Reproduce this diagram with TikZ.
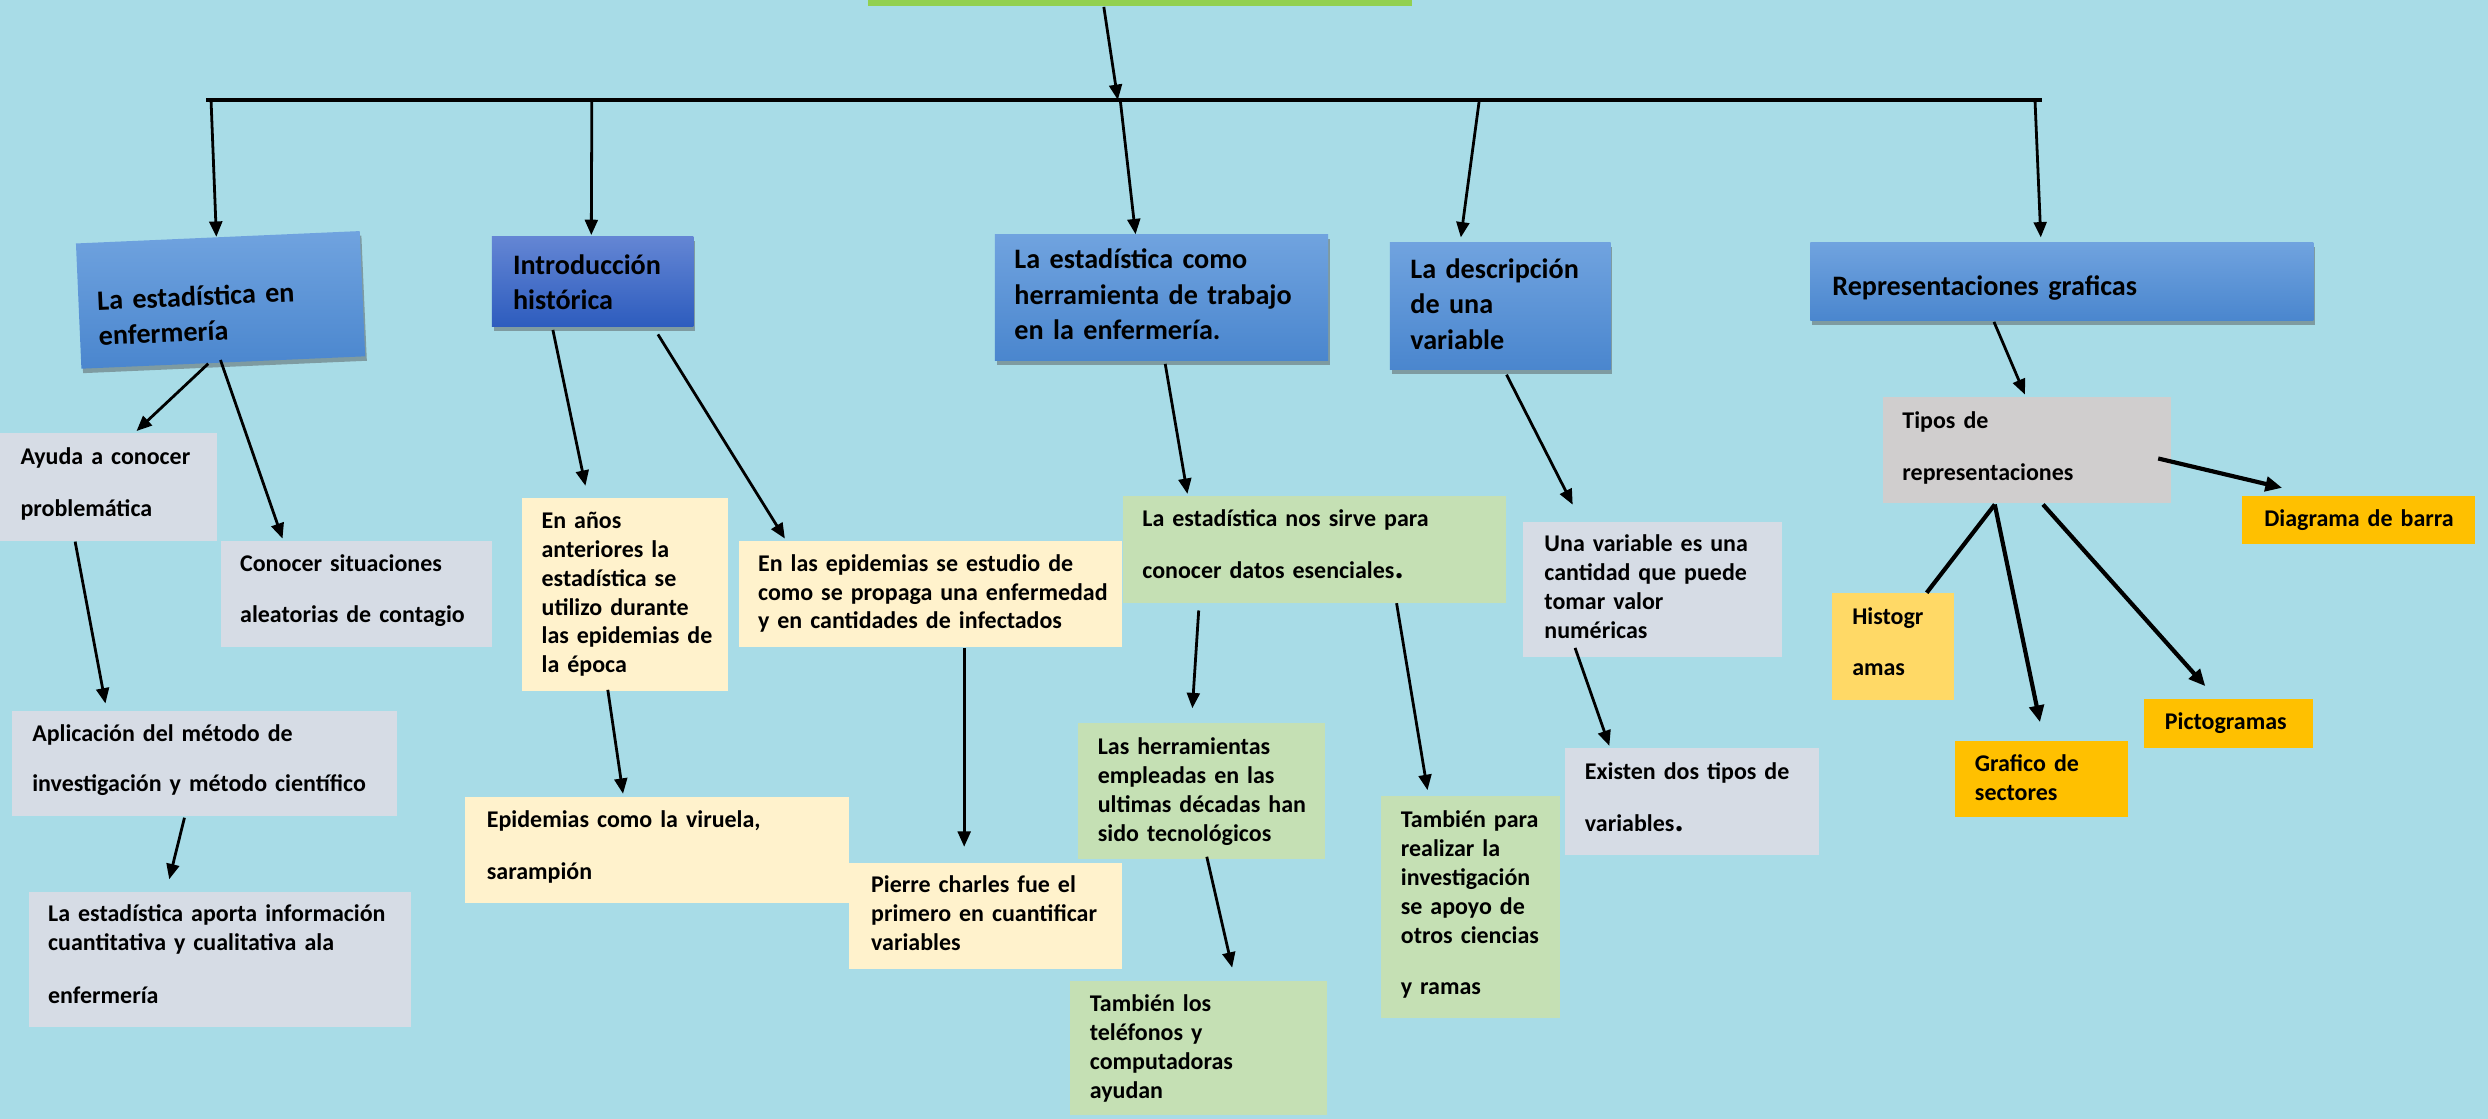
\documentclass[tikz,border=0pt]{standalone}
\usepackage{fontspec}
\setmainfont{Carlito}
\usetikzlibrary{arrows.meta,calc,fit,shadows}
\newlength\upx
\setlength\upx{0.02cm}
\definecolor{cbg}{HTML}{A8DCE7}
\definecolor{ctop}{HTML}{92D050}
\definecolor{bluetop}{HTML}{70A3DF}
\definecolor{bluebot}{HTML}{4A86CE}
\definecolor{dbluetop}{HTML}{6486D4}
\definecolor{dbluebot}{HTML}{2D5CBE}
\definecolor{cgray}{HTML}{D6DCE5}
\definecolor{ccream}{HTML}{FFF2CC}
\definecolor{cgreen}{HTML}{C5E0B4}
\definecolor{ctipos}{HTML}{D0CECE}
\definecolor{chist}{HTML}{FFD966}
\definecolor{corange}{HTML}{FFC000}
\begin{document}
\begin{tikzpicture}[x=0.02cm,y=-0.02cm,
  box/.style={inner sep=0pt, draw=none},
  shad/.style={drop shadow={shadow xshift=0.6pt, shadow yshift=-1.6pt, opacity=0.45, fill=black!70}},
  bluebox/.style={box, top color=bluetop, bottom color=bluebot, shad},
  dbluebox/.style={box, top color=dbluetop, bottom color=dbluebot, shad},
  graybox/.style={box, fill=cgray},
  creambox/.style={box, fill=ccream},
  greenbox/.style={box, fill=cgreen},
  tiposbox/.style={box, fill=ctipos},
  histbox/.style={box, fill=chist},
  orangebox/.style={box, fill=corange},
  htxt/.style={font=\fontsize{10.1}{12.7}\selectfont\bfseries, inner sep=0pt, anchor=base west, text width=330\upx, align=left},
  btxt/.style={font=\fontsize{8.6}{10.36}\selectfont\bfseries, inner sep=0pt, anchor=base west, text width=330\upx, align=left},
  arr/.style={-{Triangle[length=5.5pt,width=4.6pt]}, line width=1pt},
  tarr/.style={-{Triangle[length=6pt,width=5.2pt]}, line width=1.5pt},
  bar/.style={line width=1.4pt}
]
\useasboundingbox (0,0) rectangle (1568,705);
\fill[cbg] (0,0) rectangle (1568,705);
\clip (0,0) rectangle (1568,705);

% top box and bar
\node[box, fill=ctop, fit={(547,-8) (890,4)}] (top) {};
\coordinate (bl) at (130,63);
\coordinate (br) at (1287,63);
\coordinate (j0) at (704.5,63);
\coordinate (j1) at (133,63);
\coordinate (j2) at (373,63);
\coordinate (j3) at (706,63);
\coordinate (j4) at (932.3,63);
\coordinate (j5) at (1282.5,63);
\draw[bar] (bl) -- (br);

% main headings
\begin{scope}[shift={(139,189)}, rotate=2.5]
  \node[bluebox, minimum width=179\upx, minimum height=79\upx, rotate=2.5] (b1) at (0,0) {};
  \node[htxt, rotate=2.5] (b1t) at (-78,3.1) {La estadística en\\enfermería};
\end{scope}
\node[dbluebox, fit={(310,149) (437,206)}] (b2) {};
\node[htxt] (b2t) at (323,172.7) {Introducción\\histórica};
\node[bluebox, fit={(627,148) (837,227)}] (b3) {};
\node[htxt] (b3t) at (639,169.5) {La estadística como\\herramienta de trabajo\\en la enfermería.};
\node[bluebox, fit={(876,153) (1015,233)}] (b4) {};
\node[htxt] (b4t) at (888.5,175.5) {La descripción\\de una\\variable};
\node[bluebox, fit={(1141,153) (1458,202)}] (b5) {};
\node[htxt] (b5t) at (1154.4,186.5) {Representaciones graficas};

% column 1
\node[graybox, fit={(0,273) (137,341)}] (aya) {};
\node[btxt] (ayat) at (12.6,292.5) {Ayuda a conocer\\[8.4pt]problemática};
\node[graybox, fit={(139,341) (310,408)}] (con) {};
\node[btxt] (cont) at (151,360) {Conocer situaciones\\[7.9pt]aleatorias de contagio};
\node[graybox, fit={(7.5,448) (250,514.5)}] (apl) {};
\node[btxt] (aplt) at (20,467) {Aplicación del método de\\[7.9pt]investigación y método científico};
\node[graybox, fit={(18,562) (259,647)}] (apo) {};
\node[btxt] (apot) at (30,581) {La estadística aporta información\\cuantitativa y cualitativa ala\\[8.4pt]enfermería};

% column 2
\node[creambox, fit={(329,314) (459,435.5)}] (anos) {};
\node[btxt] (anost) at (341,333) {En años\\anteriores la\\estadística se\\utilizo durante\\las epidemias de\\la época};
\node[creambox, fit={(466,341) (707,408)}] (epi) {};
\node[btxt] (epit) at (477.4,360) {En las epidemias se estudio de\\como se propaga una enfermedad\\y en cantidades de infectados};
\node[creambox, fit={(293,502) (535,569)}] (vir) {};
\node[btxt] (virt) at (306.5,521.5) {Epidemias como la viruela,\\[8.2pt]sarampión};
\node[creambox, fit={(535,543.6) (707,610.5)}] (pie) {};
\node[btxt] (piet) at (548.7,562.5) {Pierre charles fue el\\primero en cuantificar\\variables};

% column 3
\node[greenbox, fit={(707.5,312.8) (949.3,380)}] (sir) {};
\node[btxt] (sirt) at (719.6,332) {La estadística nos sirve para\\[8.2pt]conocer datos esenciales\scalebox{1.5}{.}};
\node[greenbox, fit={(679.5,455.8) (835.2,541.2)}] (her) {};
\node[btxt] (hert) at (691.5,475.7) {Las herramientas\\empleadas en las\\ultimas décadas han\\sido tecnológicos};
\node[greenbox, fit={(674.4,618) (836.3,703)}] (tel) {};
\node[btxt] (telt) at (686.5,637.6) {También los\\teléfonos y\\computadoras\\ayudan};
\node[greenbox, fit={(870.4,501.7) (983,641.8)}] (par) {};
\node[btxt] (part) at (882.5,521.5) {También para\\realizar la\\investigación\\se apoyo de\\otros ciencias\\[8.1pt]y ramas};

% column 4
\node[graybox, fit={(960,329) (1123,414)}] (var) {};
\node[btxt] (vart) at (973,347.8) {Una variable es una\\cantidad que puede\\tomar valor\\numéricas};
\node[graybox, fit={(986,471.5) (1146.3,539)}] (exi) {};
\node[btxt] (exit) at (998.5,491.3) {Existen dos tipos de\\[8.4pt]variables\scalebox{1.5}{.}};

% column 5
\node[tiposbox, fit={(1186.5,250) (1368,317.3)}] (tip) {};
\node[btxt] (tipt) at (1198.6,270) {Tipos de\\[8.4pt]representaciones};
\node[histbox, fit={(1154.3,373.5) (1231.7,441)}] (his) {};
\node[btxt] (hist) at (1167,393.7) {Histogr\\[8pt]amas};
\node[orangebox, fit={(1232.2,467) (1341.3,515)}] (gra) {};
\node[btxt] (grat) at (1244.3,486) {Grafico de\\sectores};
\node[orangebox, fit={(1351,440.7) (1457.4,471.2)}] (pic) {};
\node[btxt] (pict) at (1364,460) {Pictogramas};
\node[orangebox, fit={(1413,312.7) (1559.5,342.6)}] (dia) {};
\node[btxt] (diat) at (1426.7,332) {Diagrama de barra};

% connectors from top
\draw[arr] ($(top.south west)+(149,0)$) -- (j0);
\draw[arr] (j1) -- ($(b1.north west)!0.495!(b1.north east)$);
\draw[arr] (j2) -- ($(b2.north west)+(63,-0.5)$);
\draw[arr] (j3) -- ($(b3.north west)+(89,0)$);
\draw[arr] (j4) -- ($(b4.north west)+(45,-3)$);
\draw[arr] (j5) -- ($(b5.north west)+(145.5,-3)$);

% column 1 connectors
\draw[arr] ($(b1.south west)!0.447!(b1.south east)$) -- ($(aya.north west)+(86.4,-1)$);
\draw[arr] ($(b1.south west)!0.49!(b1.south east)+(0,-2)$) -- ($(con.north west)+(39.4,-1.2)$);
\draw[arr] ($(aya.south west)+(47.7,0)$) -- ($(apl.north west)+(59.3,-4.3)$);
\draw[arr] ($(apl.south west)+(109.1,0.5)$) -- ($(apo.north west)+(89,-7.5)$);

% column 2 connectors
\draw[arr] ($(b2.south west)+(38.8,1.6)$) -- ($(anos.north west)+(40.3,-7.5)$);
\draw[arr] ($(b2.south west)+(105,4.4)$) -- ($(epi.north west)+(29,-1.2)$);
\draw[arr] ($(anos.south west)+(54.4,-1.1)$) -- ($(vir.north west)+(100,-1.4)$);
\draw[arr] ($(epi.south west)+(142,0)$) -- ($(pie.north west)+(73,-9.6)$);

% column 3 connectors
\draw[arr] ($(b3.south west)+(107.7,2)$) -- ($(sir.north west)+(41.2,-1.2)$);
\draw[arr] ($(sir.south west)+(48.3,4.4)$) -- ($(her.north west)+(72.3,-9.1)$);
\draw[arr] ($(her.south west)+(81.4,-1.6)$) -- ($(tel.north west)+(102.5,-7.8)$);
\draw[arr] ($(sir.south west)+(173,-0.2)$) -- ($(par.north west)+(29.6,-3.4)$);

% column 4 connectors
\draw[arr] ($(b4.south west)+(73.8,2.8)$) -- ($(var.north west)+(31.5,-10.6)$);
\draw[arr] ($(var.south west)+(33,-6)$) -- ($(exi.north west)+(28.6,-1.1)$);

% column 5 connectors
\draw[arr] ($(b5.south west)+(116,0.5)$) -- ($(tip.north west)+(90,-1)$);
\draw[tarr] ($(tip.north east)+(-8.2,39.3)$) -- ($(dia.north west)+(25.6,-4.9)$);
\draw[line width=1.5pt] ($(tip.south west)+(71,0.3)$) -- ($(his.north west)+(60.3,0.4)$);
\draw[tarr] ($(tip.south west)+(71,0.3)$) -- ($(gra.north west)+(53.8,-11.5)$);
\draw[tarr] ($(tip.south west)+(101.4,0.3)$) -- ($(pic.north west)+(39.2,-7.9)$);
\end{tikzpicture}
\end{document}
